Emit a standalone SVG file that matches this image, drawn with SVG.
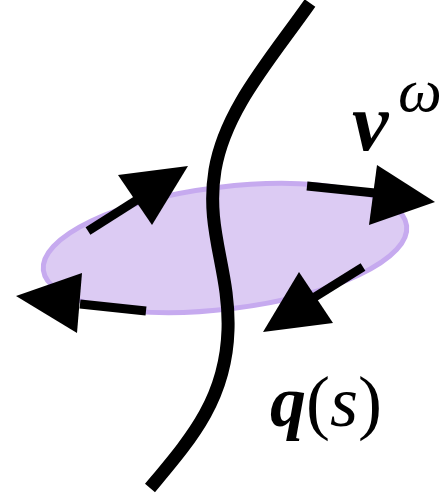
<svg xmlns="http://www.w3.org/2000/svg" width="444" height="499" viewBox="0 0 444 499">
<style>
.arrow-shaft{stroke:#000;stroke-width:9;fill:none}
.arrow-head{fill:#000}
.lbl{font-family:"Liberation Serif","DejaVu Serif",serif;fill:#000}
</style>
<rect width="444" height="499" fill="#fff"/>
<g id="disk">
<ellipse cx="225" cy="248" rx="183" ry="61" transform="rotate(-7 225 248)" fill="#dccbf3" stroke="#c6aaef" stroke-width="5"/>
</g>
<g id="curve">
<path d="M310 3 C 270 60, 225 110, 215 170 C 205 230, 230 270, 228 330 C 226 400, 190 440, 150 488" fill="none" stroke="#000" stroke-width="13"/>
</g>
<g id="connectors">
<line class="arrow-shaft" x1="88" y1="231" x2="140" y2="198"/>
<polygon class="arrow-head" points="188,166 118,175 152,225"/>
<line class="arrow-shaft" x1="307" y1="186" x2="375" y2="193"/>
<polygon class="arrow-head" points="435,202 377,165 369,225"/>
<line class="arrow-shaft" x1="146" y1="311" x2="80" y2="304"/>
<polygon class="arrow-head" points="16,296 82,273 77,333"/>
<line class="arrow-shaft" x1="363" y1="267" x2="310" y2="300"/>
<polygon class="arrow-head" points="263,332 299,272 333,323"/>
</g>
<g id="label-v">
<text class="lbl" x="352" y="150" font-size="82" font-weight="bold" font-style="italic">v</text>
<text class="lbl" x="398" y="111" font-size="62" font-style="italic">ω</text>
</g>
<g id="label-q">
<text class="lbl" x="270" y="426" font-size="72"><tspan font-weight="bold" font-style="italic">q</tspan>(<tspan font-style="italic">s</tspan>)</text>
</g>
</svg>
